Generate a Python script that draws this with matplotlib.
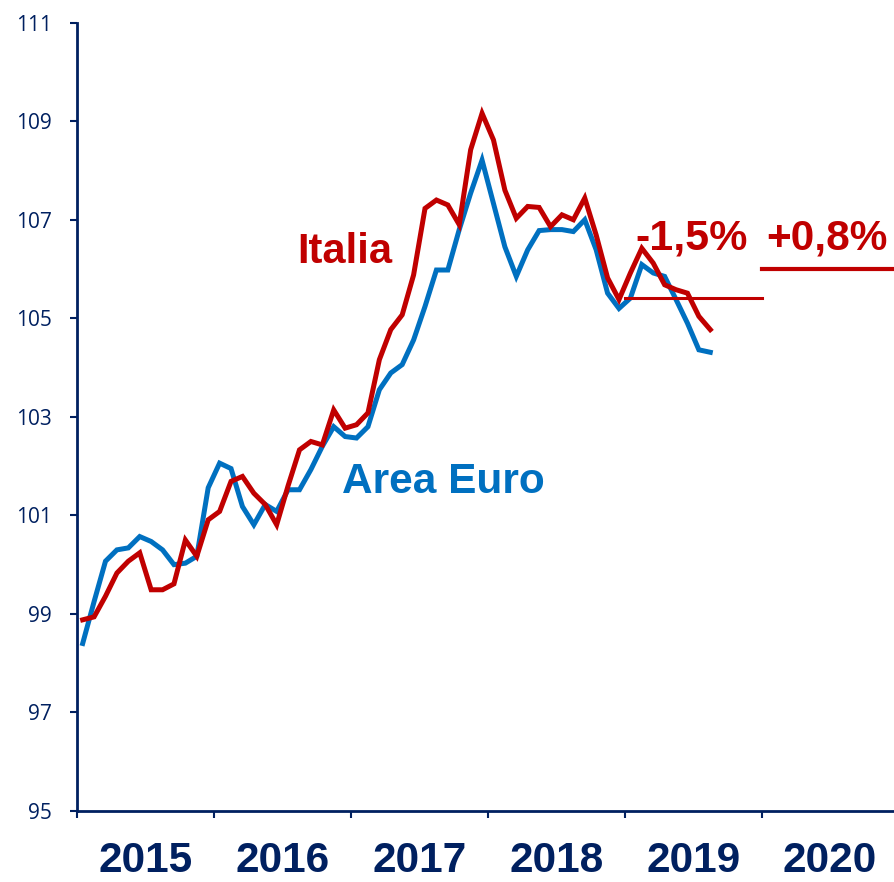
import matplotlib
matplotlib.use("Agg")
import matplotlib.pyplot as plt
import matplotlib.transforms as mtransforms

# Indici mensili, gen 2015 - ago 2019
area_euro = [98.4, 99.25, 100.07, 100.3, 100.34, 100.57, 100.47, 100.3, 100.0, 100.03,
             100.17, 101.56, 102.06, 101.95, 101.18, 100.81, 101.22, 101.08, 101.52, 101.52,
             101.93, 102.4, 102.8, 102.6, 102.57, 102.8, 103.55, 103.89, 104.06, 104.56,
             105.24, 105.98, 105.98, 106.8, 107.54, 108.21, 107.33, 106.45, 105.85, 106.39,
             106.78, 106.8, 106.8, 106.76, 107.0, 106.39, 105.51, 105.2, 105.41, 106.09,
             105.92, 105.85, 105.38, 104.9, 104.36, 104.31]
italia = [98.88, 98.94, 99.36, 99.83, 100.07, 100.24, 99.49, 99.49, 99.61, 100.5,
          100.17, 100.91, 101.08, 101.69, 101.79, 101.45, 101.22, 100.81, 101.6, 102.33,
          102.5, 102.43, 103.14, 102.77, 102.84, 103.08, 104.16, 104.77, 105.07, 105.88,
          107.23, 107.4, 107.3, 106.9, 108.42, 109.16, 108.62, 107.6, 107.03, 107.27,
          107.25, 106.86, 107.1, 107.0, 107.44, 106.69, 105.82, 105.38, 105.92, 106.42,
          106.12, 105.68, 105.58, 105.51, 105.04, 104.77]
anni = ["2015", "2016", "2017", "2018", "2019", "2020"]
yticks = [95, 97, 99, 101, 103, 105, 107, 109, 111]
livello_2019 = 105.42
livello_2020 = 106.0

ROSSO = "#C00000"
BLU = "#0070C0"
NAVY = "#002060"
BOLD = ["Liberation Sans", "DejaVu Sans"]

fig = plt.figure(figsize=(8.94, 8.82), dpi=100)
ax = fig.add_axes([0.0861, 0.0805, 1 - 0.0861, 0.8938])

mesi = [i + 0.5 for i in range(len(area_euro))]
ax.plot(mesi, area_euro, color=BLU, lw=3.6, solid_joinstyle="miter")
ax.plot(mesi, italia, color=ROSSO, lw=3.6, solid_joinstyle="miter")

# linee orizzontali delle previsioni
ax.plot([48, 60], [livello_2019, livello_2019], color=ROSSO, lw=2.2)
ax.plot([60, 72], [livello_2020, livello_2020], color=ROSSO, lw=3.0)

ax.set_xlim(0, 71.6)
ax.set_ylim(95, 111)
ax.set_yticks(yticks)
ax.set_yticklabels([str(v) for v in yticks], fontsize=15, color=NAVY, family="Open Sans")
ax.set_xticks([12 * i for i in range(6)])
ax.set_xticklabels([])
ax.tick_params(axis="y", direction="out", length=5, width=1.5, color=NAVY, pad=13)
ax.tick_params(axis="x", direction="out", length=5, width=1.5, color=NAVY)

for s in ["top", "right"]:
    ax.spines[s].set_visible(False)
for s in ["left", "bottom"]:
    ax.spines[s].set_color(NAVY)
    ax.spines[s].set_linewidth(2)

trans = mtransforms.blended_transform_factory(ax.transData, ax.transAxes)
for i, a in enumerate(anni):
    ax.text(12 * i + 6, -0.0775, a, transform=trans, ha="center", va="baseline",
            fontsize=30.5, fontweight="bold", color=NAVY, family=BOLD)

ax.text(23.45, 106.12, "Italia", ha="center", va="baseline", fontsize=30,
        fontweight="bold", color=ROSSO, family=BOLD)
ax.text(32.1, 101.45, "Area Euro", ha="center", va="baseline", fontsize=30.5,
        fontweight="bold", color=BLU, family=BOLD)
ax.text(53.9, 106.39, "-1,5%", ha="center", va="baseline", fontsize=31,
        fontweight="bold", color=ROSSO, family=BOLD)
ax.text(65.75, 106.39, "+0,8%", ha="center", va="baseline", fontsize=30.5,
        fontweight="bold", color=ROSSO, family=BOLD)

fig.savefig("out.png", dpi=100)
